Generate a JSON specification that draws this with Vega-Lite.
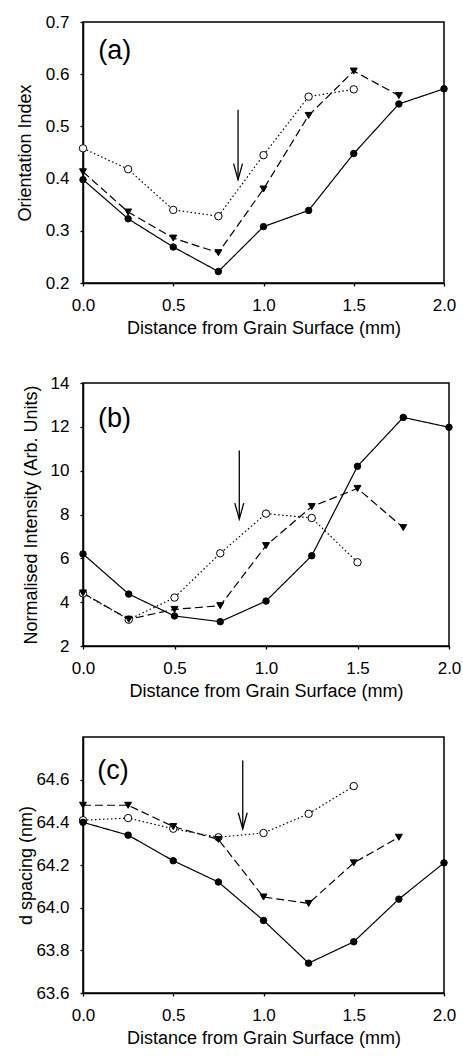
{
  "$schema": "https://vega.github.io/schema/vega-lite/v6.json",
  "background": "white",
  "padding": {"left": 15, "top": 12, "right": 5, "bottom": 2},
  "autosize": {"type": "pad"},
  "config": {
    "font": "Liberation Sans",
    "view": {"stroke": "black", "strokeWidth": 1.5},
    "axis": {
      "domainColor": "black", "domainWidth": 1.5,
      "tickColor": "black", "tickSize": 3, "tickWidth": 1.3,
      "labelFont": "Liberation Sans", "labelFontSize": 17, "labelColor": "black",
      "titleFont": "Liberation Sans", "titleFontSize": 18, "titleFontWeight": "normal", "titleColor": "black",
      "grid": false, "labelPadding": 11, "labelOverlap": false
    },
    "axisX": {"labelFlush": false, "titlePadding": 6}
  },
  "concat": [
    {
      "width": 361, "height": 261,
      "layer": [
        {
          "data": {"name": "a"},
          "mark": {"type": "line", "color": "black", "strokeWidth": 1.2},
          "encoding": {
            "x": {"field": "x", "type": "quantitative", "scale": {"domain": [0, 2], "nice": false},
                  "axis": {"values": [0, 0.5, 1, 1.5, 2], "format": ".1f", "title": "Distance from Grain Surface (mm)"}},
            "y": {"field": "y", "type": "quantitative", "scale": {"domain": [0.2, 0.7], "nice": false, "zero": false},
                  "axis": {"values": [0.2, 0.3, 0.4, 0.5, 0.6, 0.7], "format": ".1f", "title": "Orientation Index", "titlePadding": 11}},
            "strokeDash": {"field": "s", "type": "nominal", "legend": null,
                           "scale": {"domain": ["solid", "dashed", "dotted"], "range": [[1, 0], [8, 4], [1.5, 2.5]]}},
            "order": {"field": "x"}
          }
        },
        {
          "data": {"name": "a"},
          "mark": {"type": "point", "filled": true, "stroke": "black", "strokeWidth": 1, "opacity": 1},
          "encoding": {
            "x": {"field": "x", "type": "quantitative"},
            "y": {"field": "y", "type": "quantitative"},
            "shape": {"field": "s", "type": "nominal", "legend": null,
                      "scale": {"domain": ["solid", "dashed", "dotted"], "range": ["circle", "triangle-down", "circle"]}},
            "fill": {"field": "s", "type": "nominal", "legend": null,
                     "scale": {"domain": ["solid", "dashed", "dotted"], "range": ["black", "black", "white"]}},
            "size": {"field": "s", "type": "nominal", "legend": null,
                     "scale": {"domain": ["solid", "dashed", "dotted"], "range": [42, 55, 30]}}
          }
        },
        {
          "data": {"values": [{"x": 0.859, "y1": 0.532, "y2": 0.398}]},
          "mark": {"type": "rule", "color": "black", "strokeWidth": 1.3},
          "encoding": {"x": {"field": "x", "type": "quantitative"}, "y": {"field": "y1", "type": "quantitative"}, "y2": {"field": "y2"}}
        },
        {
          "data": {"values": [{"x": 0.859, "y1": 0.532, "y2": 0.398}]},
          "mark": {"type": "point", "shape": "M-0.28,-1L0,0L0.28,-1", "size": 1024, "filled": false, "stroke": "black", "strokeWidth": 1.3, "opacity": 1},
          "encoding": {"x": {"field": "x", "type": "quantitative"}, "y": {"field": "y2", "type": "quantitative"}}
        },
        {
          "data": {"values": [{"x": 0.176, "y": 0.644, "label": "(a)"}]},
          "mark": {"type": "text", "fontSize": 27, "align": "center", "baseline": "middle", "color": "black", "font": "Liberation Sans"},
          "encoding": {"x": {"field": "x", "type": "quantitative"}, "y": {"field": "y", "type": "quantitative"}, "text": {"field": "label"}}
        }
      ]
    },
    {
      "width": 366, "height": 263,
      "layer": [
        {
          "data": {"name": "b"},
          "mark": {"type": "line", "color": "black", "strokeWidth": 1.2},
          "encoding": {
            "x": {"field": "x", "type": "quantitative", "scale": {"domain": [0, 2], "nice": false},
                  "axis": {"values": [0, 0.5, 1, 1.5, 2], "format": ".1f", "title": "Distance from Grain Surface (mm)"}},
            "y": {"field": "y", "type": "quantitative", "scale": {"domain": [2, 14], "nice": false, "zero": false},
                  "axis": {"values": [2, 4, 6, 8, 10, 12, 14], "format": "d", "title": "Normalised Intensity (Arb. Units)", "titlePadding": 10}},
            "strokeDash": {"field": "s", "type": "nominal", "legend": null,
                           "scale": {"domain": ["solid", "dashed", "dotted"], "range": [[1, 0], [8, 4], [1.5, 2.5]]}},
            "order": {"field": "x"}
          }
        },
        {
          "data": {"name": "b"},
          "mark": {"type": "point", "filled": true, "stroke": "black", "strokeWidth": 1, "opacity": 1},
          "encoding": {
            "x": {"field": "x", "type": "quantitative"},
            "y": {"field": "y", "type": "quantitative"},
            "shape": {"field": "s", "type": "nominal", "legend": null,
                      "scale": {"domain": ["solid", "dashed", "dotted"], "range": ["circle", "triangle-down", "circle"]}},
            "fill": {"field": "s", "type": "nominal", "legend": null,
                     "scale": {"domain": ["solid", "dashed", "dotted"], "range": ["black", "black", "white"]}},
            "size": {"field": "s", "type": "nominal", "legend": null,
                     "scale": {"domain": ["solid", "dashed", "dotted"], "range": [42, 55, 30]}}
          }
        },
        {
          "data": {"values": [{"x": 0.854, "y1": 10.92, "y2": 7.79}]},
          "mark": {"type": "rule", "color": "black", "strokeWidth": 1.3},
          "encoding": {"x": {"field": "x", "type": "quantitative"}, "y": {"field": "y1", "type": "quantitative"}, "y2": {"field": "y2"}}
        },
        {
          "data": {"values": [{"x": 0.854, "y1": 10.92, "y2": 7.79}]},
          "mark": {"type": "point", "shape": "M-0.28,-1L0,0L0.28,-1", "size": 1024, "filled": false, "stroke": "black", "strokeWidth": 1.3, "opacity": 1},
          "encoding": {"x": {"field": "x", "type": "quantitative"}, "y": {"field": "y2", "type": "quantitative"}}
        },
        {
          "data": {"values": [{"x": 0.172, "y": 12.38, "label": "(b)"}]},
          "mark": {"type": "text", "fontSize": 27, "align": "center", "baseline": "middle", "color": "black", "font": "Liberation Sans"},
          "encoding": {"x": {"field": "x", "type": "quantitative"}, "y": {"field": "y", "type": "quantitative"}, "text": {"field": "label"}}
        }
      ]
    },
    {
      "width": 361, "height": 256,
      "layer": [
        {
          "data": {"name": "c"},
          "mark": {"type": "line", "color": "black", "strokeWidth": 1.2},
          "encoding": {
            "x": {"field": "x", "type": "quantitative", "scale": {"domain": [0, 2], "nice": false},
                  "axis": {"values": [0, 0.5, 1, 1.5, 2], "format": ".1f", "title": "Distance from Grain Surface (mm)"}},
            "y": {"field": "y", "type": "quantitative", "scale": {"domain": [63.6, 64.8], "nice": false, "zero": false},
                  "axis": {"values": [63.6, 63.8, 64.0, 64.2, 64.4, 64.6], "format": ".1f", "title": "d spacing (nm)", "titlePadding": 0}},
            "strokeDash": {"field": "s", "type": "nominal", "legend": null,
                           "scale": {"domain": ["solid", "dashed", "dotted"], "range": [[1, 0], [8, 4], [1.5, 2.5]]}},
            "order": {"field": "x"}
          }
        },
        {
          "data": {"name": "c"},
          "mark": {"type": "point", "filled": true, "stroke": "black", "strokeWidth": 1, "opacity": 1},
          "encoding": {
            "x": {"field": "x", "type": "quantitative"},
            "y": {"field": "y", "type": "quantitative"},
            "shape": {"field": "s", "type": "nominal", "legend": null,
                      "scale": {"domain": ["solid", "dashed", "dotted"], "range": ["circle", "triangle-down", "circle"]}},
            "fill": {"field": "s", "type": "nominal", "legend": null,
                     "scale": {"domain": ["solid", "dashed", "dotted"], "range": ["black", "black", "white"]}},
            "size": {"field": "s", "type": "nominal", "legend": null,
                     "scale": {"domain": ["solid", "dashed", "dotted"], "range": [42, 55, 30]}}
          }
        },
        {
          "data": {"values": [{"x": 0.885, "y1": 64.69, "y2": 64.37}]},
          "mark": {"type": "rule", "color": "black", "strokeWidth": 1.3},
          "encoding": {"x": {"field": "x", "type": "quantitative"}, "y": {"field": "y1", "type": "quantitative"}, "y2": {"field": "y2"}}
        },
        {
          "data": {"values": [{"x": 0.885, "y1": 64.69, "y2": 64.37}]},
          "mark": {"type": "point", "shape": "M-0.28,-1L0,0L0.28,-1", "size": 1024, "filled": false, "stroke": "black", "strokeWidth": 1.3, "opacity": 1},
          "encoding": {"x": {"field": "x", "type": "quantitative"}, "y": {"field": "y2", "type": "quantitative"}}
        },
        {
          "data": {"values": [{"x": 0.166, "y": 64.64, "label": "(c)"}]},
          "mark": {"type": "text", "fontSize": 27, "align": "center", "baseline": "middle", "color": "black", "font": "Liberation Sans"},
          "encoding": {"x": {"field": "x", "type": "quantitative"}, "y": {"field": "y", "type": "quantitative"}, "text": {"field": "label"}}
        }
      ]
    }
  ],
  "columns": 1,
  "spacing": 35,
  "datasets": {
    "a": [
      {"x": 0, "y": 0.458, "s": "dotted"}, {"x": 0.25, "y": 0.418, "s": "dotted"}, {"x": 0.5, "y": 0.34, "s": "dotted"},
      {"x": 0.75, "y": 0.328, "s": "dotted"}, {"x": 1.0, "y": 0.445, "s": "dotted"}, {"x": 1.25, "y": 0.557, "s": "dotted"},
      {"x": 1.5, "y": 0.571, "s": "dotted"},
      {"x": 0, "y": 0.413, "s": "dashed"}, {"x": 0.25, "y": 0.336, "s": "dashed"}, {"x": 0.5, "y": 0.286, "s": "dashed"},
      {"x": 0.75, "y": 0.258, "s": "dashed"}, {"x": 1.0, "y": 0.38, "s": "dashed"}, {"x": 1.25, "y": 0.521, "s": "dashed"},
      {"x": 1.5, "y": 0.606, "s": "dashed"}, {"x": 1.75, "y": 0.559, "s": "dashed"},
      {"x": 0, "y": 0.398, "s": "solid"}, {"x": 0.25, "y": 0.323, "s": "solid"}, {"x": 0.5, "y": 0.269, "s": "solid"},
      {"x": 0.75, "y": 0.222, "s": "solid"}, {"x": 1.0, "y": 0.308, "s": "solid"}, {"x": 1.25, "y": 0.339, "s": "solid"},
      {"x": 1.5, "y": 0.448, "s": "solid"}, {"x": 1.75, "y": 0.543, "s": "solid"}, {"x": 2.0, "y": 0.572, "s": "solid"}
    ],
    "b": [
      {"x": 0, "y": 4.4, "s": "dotted"}, {"x": 0.25, "y": 3.2, "s": "dotted"}, {"x": 0.5, "y": 4.21, "s": "dotted"},
      {"x": 0.75, "y": 6.23, "s": "dotted"}, {"x": 1.0, "y": 8.04, "s": "dotted"}, {"x": 1.25, "y": 7.84, "s": "dotted"},
      {"x": 1.5, "y": 5.82, "s": "dotted"},
      {"x": 0, "y": 4.42, "s": "dashed"}, {"x": 0.25, "y": 3.22, "s": "dashed"}, {"x": 0.5, "y": 3.67, "s": "dashed"},
      {"x": 0.75, "y": 3.84, "s": "dashed"}, {"x": 1.0, "y": 6.58, "s": "dashed"}, {"x": 1.25, "y": 8.36, "s": "dashed"},
      {"x": 1.5, "y": 9.19, "s": "dashed"}, {"x": 1.75, "y": 7.4, "s": "dashed"},
      {"x": 0, "y": 6.2, "s": "solid"}, {"x": 0.25, "y": 4.37, "s": "solid"}, {"x": 0.5, "y": 3.37, "s": "solid"},
      {"x": 0.75, "y": 3.11, "s": "solid"}, {"x": 1.0, "y": 4.05, "s": "solid"}, {"x": 1.25, "y": 6.12, "s": "solid"},
      {"x": 1.5, "y": 10.2, "s": "solid"}, {"x": 1.75, "y": 12.43, "s": "solid"}, {"x": 2.0, "y": 11.98, "s": "solid"}
    ],
    "c": [
      {"x": 0, "y": 64.41, "s": "dotted"}, {"x": 0.25, "y": 64.42, "s": "dotted"}, {"x": 0.5, "y": 64.37, "s": "dotted"},
      {"x": 0.75, "y": 64.33, "s": "dotted"}, {"x": 1.0, "y": 64.35, "s": "dotted"}, {"x": 1.25, "y": 64.44, "s": "dotted"},
      {"x": 1.5, "y": 64.57, "s": "dotted"},
      {"x": 0, "y": 64.48, "s": "dashed"}, {"x": 0.25, "y": 64.48, "s": "dashed"}, {"x": 0.5, "y": 64.38, "s": "dashed"},
      {"x": 0.75, "y": 64.32, "s": "dashed"}, {"x": 1.0, "y": 64.05, "s": "dashed"}, {"x": 1.25, "y": 64.02, "s": "dashed"},
      {"x": 1.5, "y": 64.21, "s": "dashed"}, {"x": 1.75, "y": 64.33, "s": "dashed"},
      {"x": 0, "y": 64.4, "s": "solid"}, {"x": 0.25, "y": 64.34, "s": "solid"}, {"x": 0.5, "y": 64.22, "s": "solid"},
      {"x": 0.75, "y": 64.12, "s": "solid"}, {"x": 1.0, "y": 63.94, "s": "solid"}, {"x": 1.25, "y": 63.74, "s": "solid"},
      {"x": 1.5, "y": 63.84, "s": "solid"}, {"x": 1.75, "y": 64.04, "s": "solid"}, {"x": 2.0, "y": 64.21, "s": "solid"}
    ]
  }
}
